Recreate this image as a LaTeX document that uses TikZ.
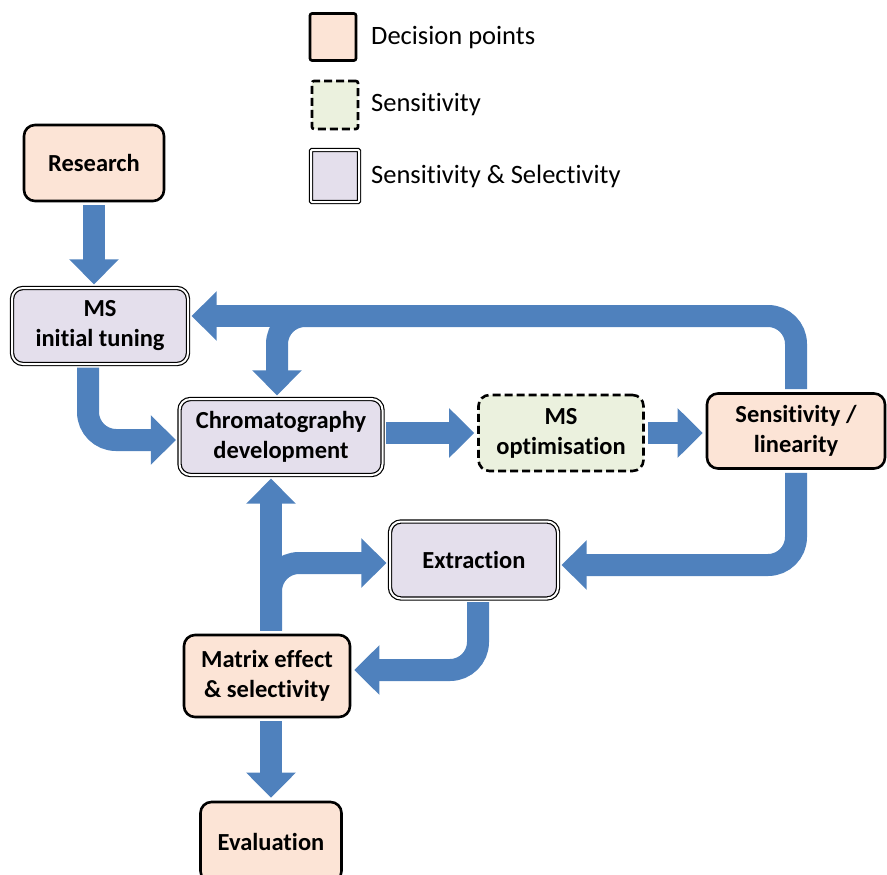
\documentclass[tikz,border=0pt]{standalone}
\usepackage{fontspec}
\setmainfont{Carlito}[Ligatures=NoCommon]
\usetikzlibrary{arrows.meta}
\definecolor{flowblue}{HTML}{4F81BD}
\definecolor{decfill}{HTML}{FCE4D6}
\definecolor{sensfill}{HTML}{EBF1DE}
\definecolor{selfill}{HTML}{E4DFEC}
\tikzset{
  box/.style={rounded corners=11pt, align=center, inner sep=0pt,
    font=\bfseries\fontsize{24.5}{30}\selectfont},
  decision/.style={box, draw=black, line width=2.6pt, fill=decfill},
  sensonly/.style={box, draw=black, line width=2.6pt, dash pattern=on 8pt off 4pt, fill=sensfill},
  sensel/.style={box, draw=black, double=white, double distance=2pt, line width=1.2pt, fill=selfill},
  flow/.style={draw=flowblue, line width=22pt, rounded corners=28pt,
    -{Triangle[length=25pt,width=48pt]}, shorten >=3pt, shorten <=3pt},
  trunk/.style={draw=flowblue, line width=22pt, rounded corners=28pt},
  keytext/.style={anchor=west, inner sep=0pt, font=\fontsize{26.5}{30}\selectfont}
}
\begin{document}
\begin{tikzpicture}[x=1pt,y=-1pt]
\useasboundingbox (0,0) rectangle (887,875);
\clip (0,0) rectangle (887,875);
% key
\node[decision, rounded corners=2pt, minimum width=46pt, minimum height=47pt] (keydec) at (333,37) {};
\node[sensonly, rounded corners=2pt, minimum width=46pt, minimum height=48pt] (keysens) at (335,105) {};
\node[sensel, rounded corners=1pt, minimum width=48pt, minimum height=52pt] (keysel) at (335,176) {};
\node[keytext] (keydectext) at (371,38) {Decision points};
\node[keytext] (keysenstext) at (371,105) {Sensitivity};
\node[keytext] (keyseltext) at (371,176) {Sensitivity \& Selectivity};
% steps
\node[decision, minimum width=140pt, minimum height=76pt] (research) at (94,163) {Research};
\node[sensel, minimum width=176pt, minimum height=76pt] (tune) at (100,326) {MS\\initial tuning};
\node[sensel, minimum width=203pt, minimum height=76pt] (chrom) at (281,437) {Chromatography\\development};
\node[sensonly, minimum width=165pt, minimum height=76pt] (opt) at (561,433) {MS\\optimisation};
\node[decision, minimum width=178pt, minimum height=75pt] (sens) at (796,431) {Sensitivity /\\linearity};
\node[sensel, minimum width=168pt, minimum height=77pt] (extract) at (474,560) {Extraction};
\node[decision, minimum width=166pt, minimum height=82pt] (matrix) at (267,676) {Matrix effect\\\& selectivity};
\node[decision, minimum width=141pt, minimum height=80pt] (eval) at (271,842) {Evaluation};
\coordinate (loopturn) at (277,316);
\coordinate (loopmid) at (330,316);
\coordinate (branch) at (271,563);
% arrows
\draw[flow] (research.south) -- ([xshift=-6pt]tune.north);
\draw[flow] ([xshift=-12pt]tune.south) |- ([yshift=-3pt]chrom.west);
\draw[flow] ([yshift=4pt]chrom.east) -- ([yshift=4pt]chrom.east -| opt.west);
\draw[flow] (opt.east) -- (opt.east -| sens.west);
\draw[flow] (sens.north) |- (loopturn) -- (loopturn |- chrom.north);
\draw[trunk] (loopmid) -- ([yshift=10pt,xshift=20pt]tune.east);
\draw[flow] ([xshift=30pt,yshift=10pt]tune.east) -- ([yshift=10pt]tune.east);
\draw[flow] (sens.south) |- ([yshift=-5pt]extract.east);
\draw[flow] ([xshift=4pt]extract.south) |- ([yshift=6pt]matrix.east);
\draw[flow] (matrix.north -| branch) -- (branch |- chrom.south);
\draw[flow] (matrix.north -| branch) |- ([yshift=-3pt]extract.west);
\draw[flow] (matrix.south -| branch) -- (eval.north -| branch);
\end{tikzpicture}
\end{document}
